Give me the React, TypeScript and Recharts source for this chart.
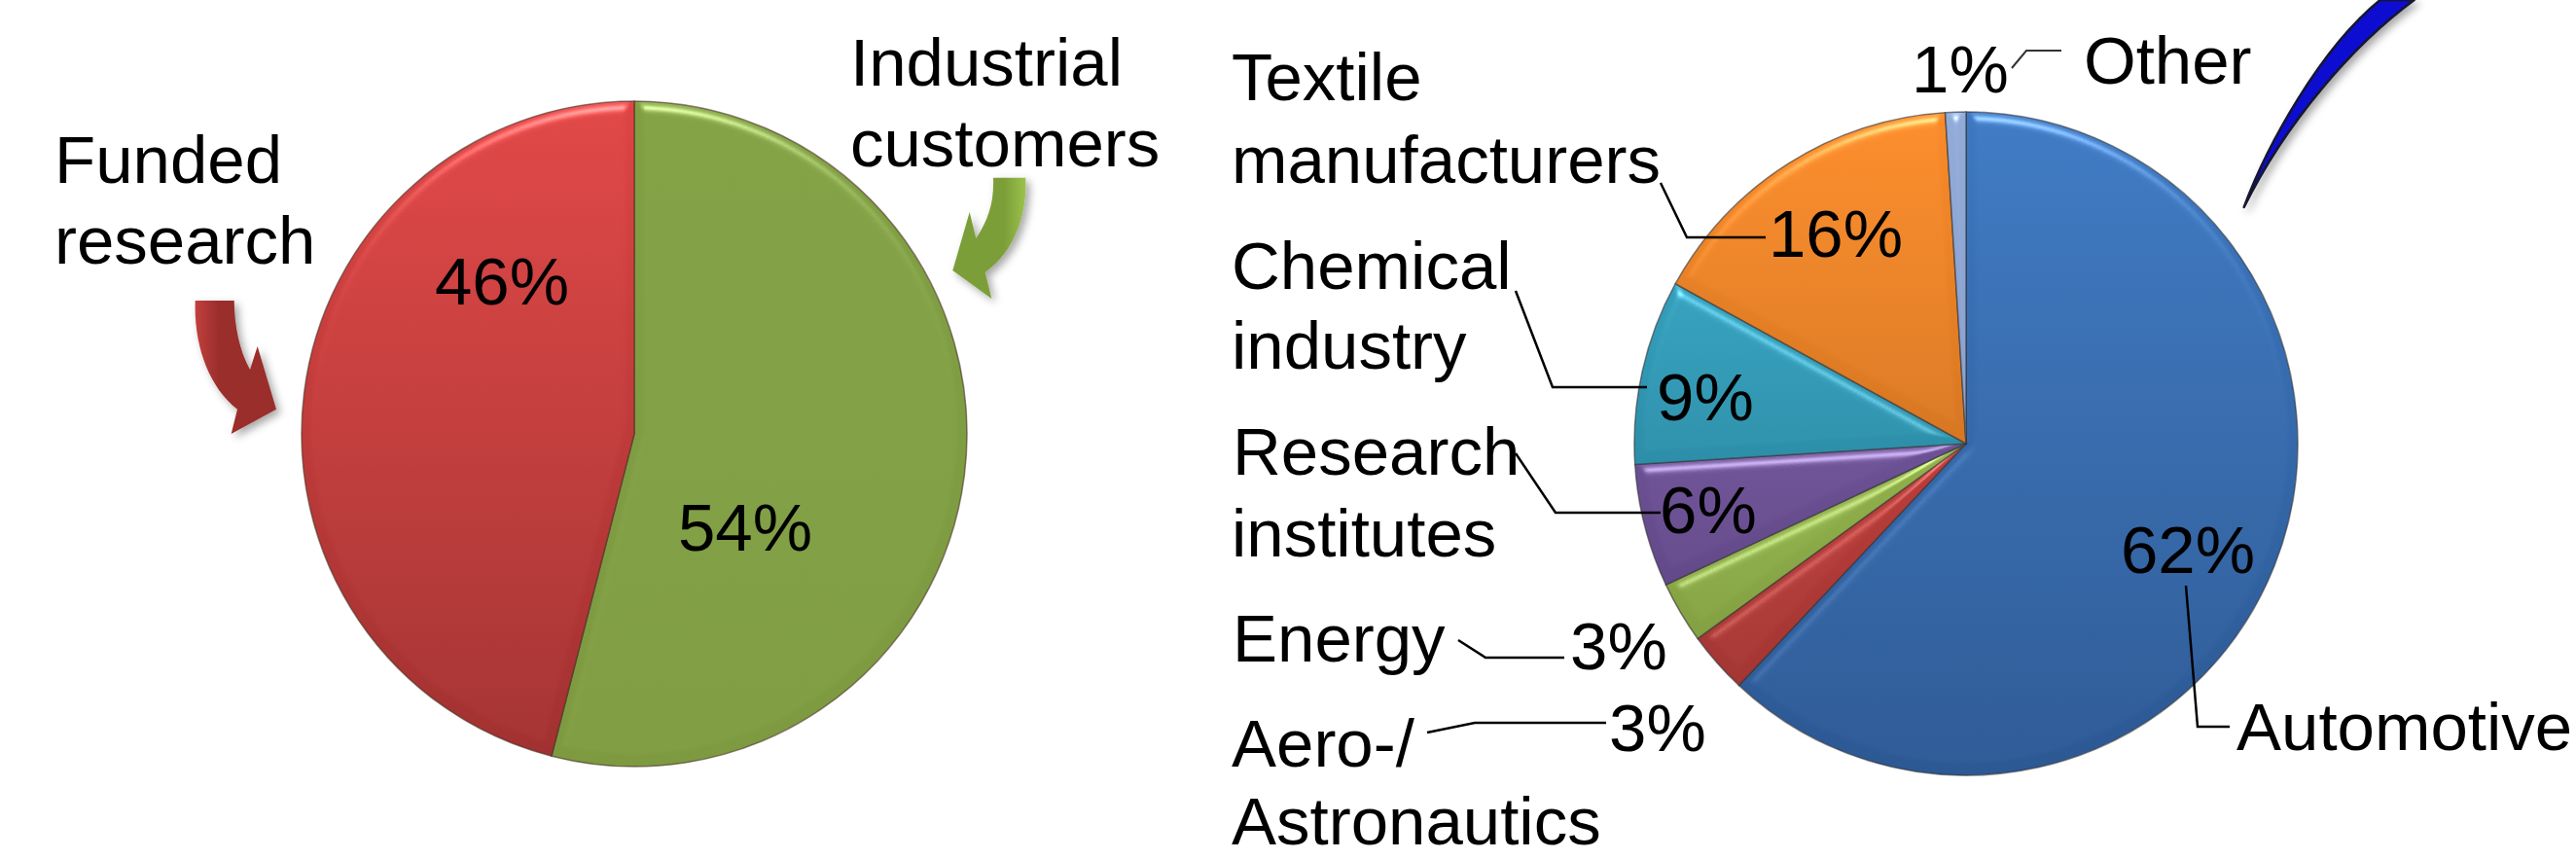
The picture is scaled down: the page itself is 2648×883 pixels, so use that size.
import { PieChart, Pie, Cell } from "recharts";

const W = 2648;
const H = 883;

const fundingNames = ["Industrial customers", "Funded research"];
const fundingValues = [54, 46];
const fundingFills = ["url(#fundGreen)", "url(#fundRed)"];

const sectorNames = [
  "Automotive",
  "Aero-/Astronautics",
  "Energy",
  "Research institutes",
  "Chemical industry",
  "Textile manufacturers",
  "Other",
];
const sectorValues = [62, 3, 3, 6, 9, 16, 1];
const sectorFills = [
  "url(#secBlue)",
  "url(#secRed)",
  "url(#secGreen)",
  "url(#secPurple)",
  "url(#secTeal)",
  "url(#secOrange)",
  "url(#secSky)",
];

const fundingTable = fundingNames.map((name, i) => ({ name, value: fundingValues[i] }));
const sectorTable = sectorNames.map((name, i) => ({ name, value: sectorValues[i] }));

// where the percent labels sit (left x, baseline y), same order as the values
const fundingLabelPos = [[697, 566], [447, 313]];
const sectorLabelPos = [
  [2180, 589],
  [1654, 772],
  [1614, 688],
  [1706, 548],
  [1703, 432],
  [1818, 264],
  [1965, 95],
];

const captions: [string, number, number][] = [
  ["Funded", 56, 188],
  ["research", 56, 271],
  ["Industrial", 874, 88],
  ["customers", 874, 171],
  ["Textile", 1266, 103],
  ["manufacturers", 1266, 188],
  ["Chemical", 1266, 297],
  ["industry", 1266, 379],
  ["Research", 1267, 488],
  ["institutes", 1266, 572],
  ["Energy", 1267, 680],
  ["Aero-/", 1266, 788],
  ["Astronautics", 1266, 868],
  ["Automotive", 2299, 771],
  ["Other", 2142, 86],
];

const leaders = [
  "1707,188 1734,244 1815,244",
  "1558,299 1596,398 1693,398",
  "1558,466 1599,527 1707,527",
  "1499,658 1527,676 1608,676",
  "1467,753 1516,743 1651,743",
  "2247,602 2259,747 2292,747",
];

const FONT = "'Liberation Sans', Arial, sans-serif";
const FONT_SIZE = 69;

const pctLabel = (pos: number[][]) => (p: any) => (
  <text
    key={p.index}
    x={pos[p.index][0]}
    y={pos[p.index][1]}
    textAnchor="start"
    fontFamily={FONT}
    fontSize={FONT_SIZE}
    fill="#000"
  >
    {p.value}%
  </text>
);

const vGrad = (id: string, top: number, bottom: number, c1: string, c2: string) => (
  <linearGradient id={id} gradientUnits="userSpaceOnUse" x1="0" y1={top} x2="0" y2={bottom}>
    <stop offset="0%" stopColor={c1} />
    <stop offset="100%" stopColor={c2} />
  </linearGradient>
);

export default function App() {
  return (
    <div style={{ position: "fixed", left: 0, top: 0, width: W, height: H, background: "#fff" }}>
      <PieChart width={W} height={H} margin={{ top: 0, right: 0, bottom: 0, left: 0 }}>
        <defs>
          {vGrad("fundRed", 105, 787, "#DD4544", "#A03130")}
          {vGrad("fundGreen", 105, 787, "#809F43", "#7D9A41")}
          {vGrad("secBlue", 115, 797, "#3D78C0", "#2C5893")}
          {vGrad("secRed", 115, 797, "#DC4845", "#9A3330")}
          {vGrad("secGreen", 115, 797, "#ACCE60", "#78953A")}
          {vGrad("secPurple", 115, 797, "#8463B2", "#553F78")}
          {vGrad("secTeal", 115, 797, "#39B0CF", "#226F86")}
          {vGrad("secOrange", 115, 797, "#F98B2A", "#B5631B")}
          {vGrad("secSky", 115, 797, "#92ABD9", "#7C94C2")}
          <filter id="bevel" x="-5%" y="-5%" width="110%" height="110%" colorInterpolationFilters="sRGB">
            <feGaussianBlur in="SourceAlpha" stdDeviation="6" result="blur" />
            <feSpecularLighting
              in="blur"
              surfaceScale="6"
              specularConstant="0.38"
              specularExponent="40"
              lightingColor="#fff"
              result="spec"
            >
              <feDistantLight azimuth="270" elevation="45" />
            </feSpecularLighting>
            <feComposite in="spec" in2="SourceAlpha" operator="in" result="specIn" />
            <feComposite in="SourceGraphic" in2="specIn" operator="arithmetic" k1="0" k2="1" k3="1" k4="0" />
          </filter>
        </defs>
        <Pie
          data={fundingTable}
          dataKey="value"
          nameKey="name"
          cx={652}
          cy={446}
          outerRadius={342}
          startAngle={90}
          endAngle={-270}
          stroke="#4a3226"
          strokeOpacity={0.6}
          strokeWidth={1.5}
          label={pctLabel(fundingLabelPos)}
          labelLine={false}
          isAnimationActive={false}
        >
          {fundingTable.map((d, i) => (
            <Cell key={d.name} fill={fundingFills[i]} filter="url(#bevel)" />
          ))}
        </Pie>
        <Pie
          data={sectorTable}
          dataKey="value"
          nameKey="name"
          cx={2021}
          cy={456}
          outerRadius={341}
          startAngle={90}
          endAngle={-270}
          stroke="#333"
          strokeOpacity={0.6}
          strokeWidth={1.5}
          label={pctLabel(sectorLabelPos)}
          labelLine={false}
          isAnimationActive={false}
        >
          {sectorTable.map((d, i) => (
            <Cell key={d.name} fill={sectorFills[i]} filter="url(#bevel)" />
          ))}
        </Pie>
      </PieChart>

      <svg
        width={W}
        height={H}
        style={{ position: "absolute", left: 0, top: 0, pointerEvents: "none" }}
      >
        <defs>
          <filter id="softShadow" x="-30%" y="-30%" width="170%" height="170%">
            <feDropShadow dx="4" dy="4" stdDeviation="4" floodColor="#000" floodOpacity="0.35" />
          </filter>
          <linearGradient id="arrowRed" x1="0" y1="0" x2="1" y2="0">
            <stop offset="0%" stopColor="#C2403D" />
            <stop offset="30%" stopColor="#992D2B" />
            <stop offset="100%" stopColor="#992D2B" />
          </linearGradient>
          <linearGradient id="arrowGreen" x1="0" y1="0" x2="1" y2="0">
            <stop offset="0%" stopColor="#7B9E38" />
            <stop offset="70%" stopColor="#7B9E38" />
            <stop offset="100%" stopColor="#9BC24C" />
          </linearGradient>
        </defs>

        <path
          d="M200.7 309 L240.7 309 C241 335 246 360 257 380 L264.7 356 L284 420.7 L237.7 446 L244 420.7 C215 398 199 355 200.7 309 Z"
          fill="url(#arrowRed)"
          filter="url(#softShadow)"
        />
        <path
          d="M1021 182.7 L1054.3 182.7 C1056 226 1040 260 1012.7 280 L1019.3 307 L979.3 278 L996.7 218 L1003.3 245 C1016 226 1022 208 1021 182.7 Z"
          fill="url(#arrowGreen)"
          filter="url(#softShadow)"
        />
        <path
          d="M2306.7 213 C2330 150 2385 50 2446.7 0 L2481.7 0 C2420 45 2350 125 2306.7 213 Z"
          fill="#0B0BD2"
          stroke="#15152E"
          strokeWidth={2.5}
          strokeLinejoin="round"
          filter="url(#softShadow)"
        />

        {leaders.map((pts) => (
          <polyline key={pts} points={pts} fill="none" stroke="#000" strokeWidth={2.5} />
        ))}
        <polyline points="2068,70 2083,52 2119,52" fill="none" stroke="#333" strokeWidth={2} />

        {captions.map(([t, x, y]) => (
          <text key={t} x={x} y={y} fontFamily={FONT} fontSize={FONT_SIZE} fill="#000">
            {t}
          </text>
        ))}
      </svg>
    </div>
  );
}
